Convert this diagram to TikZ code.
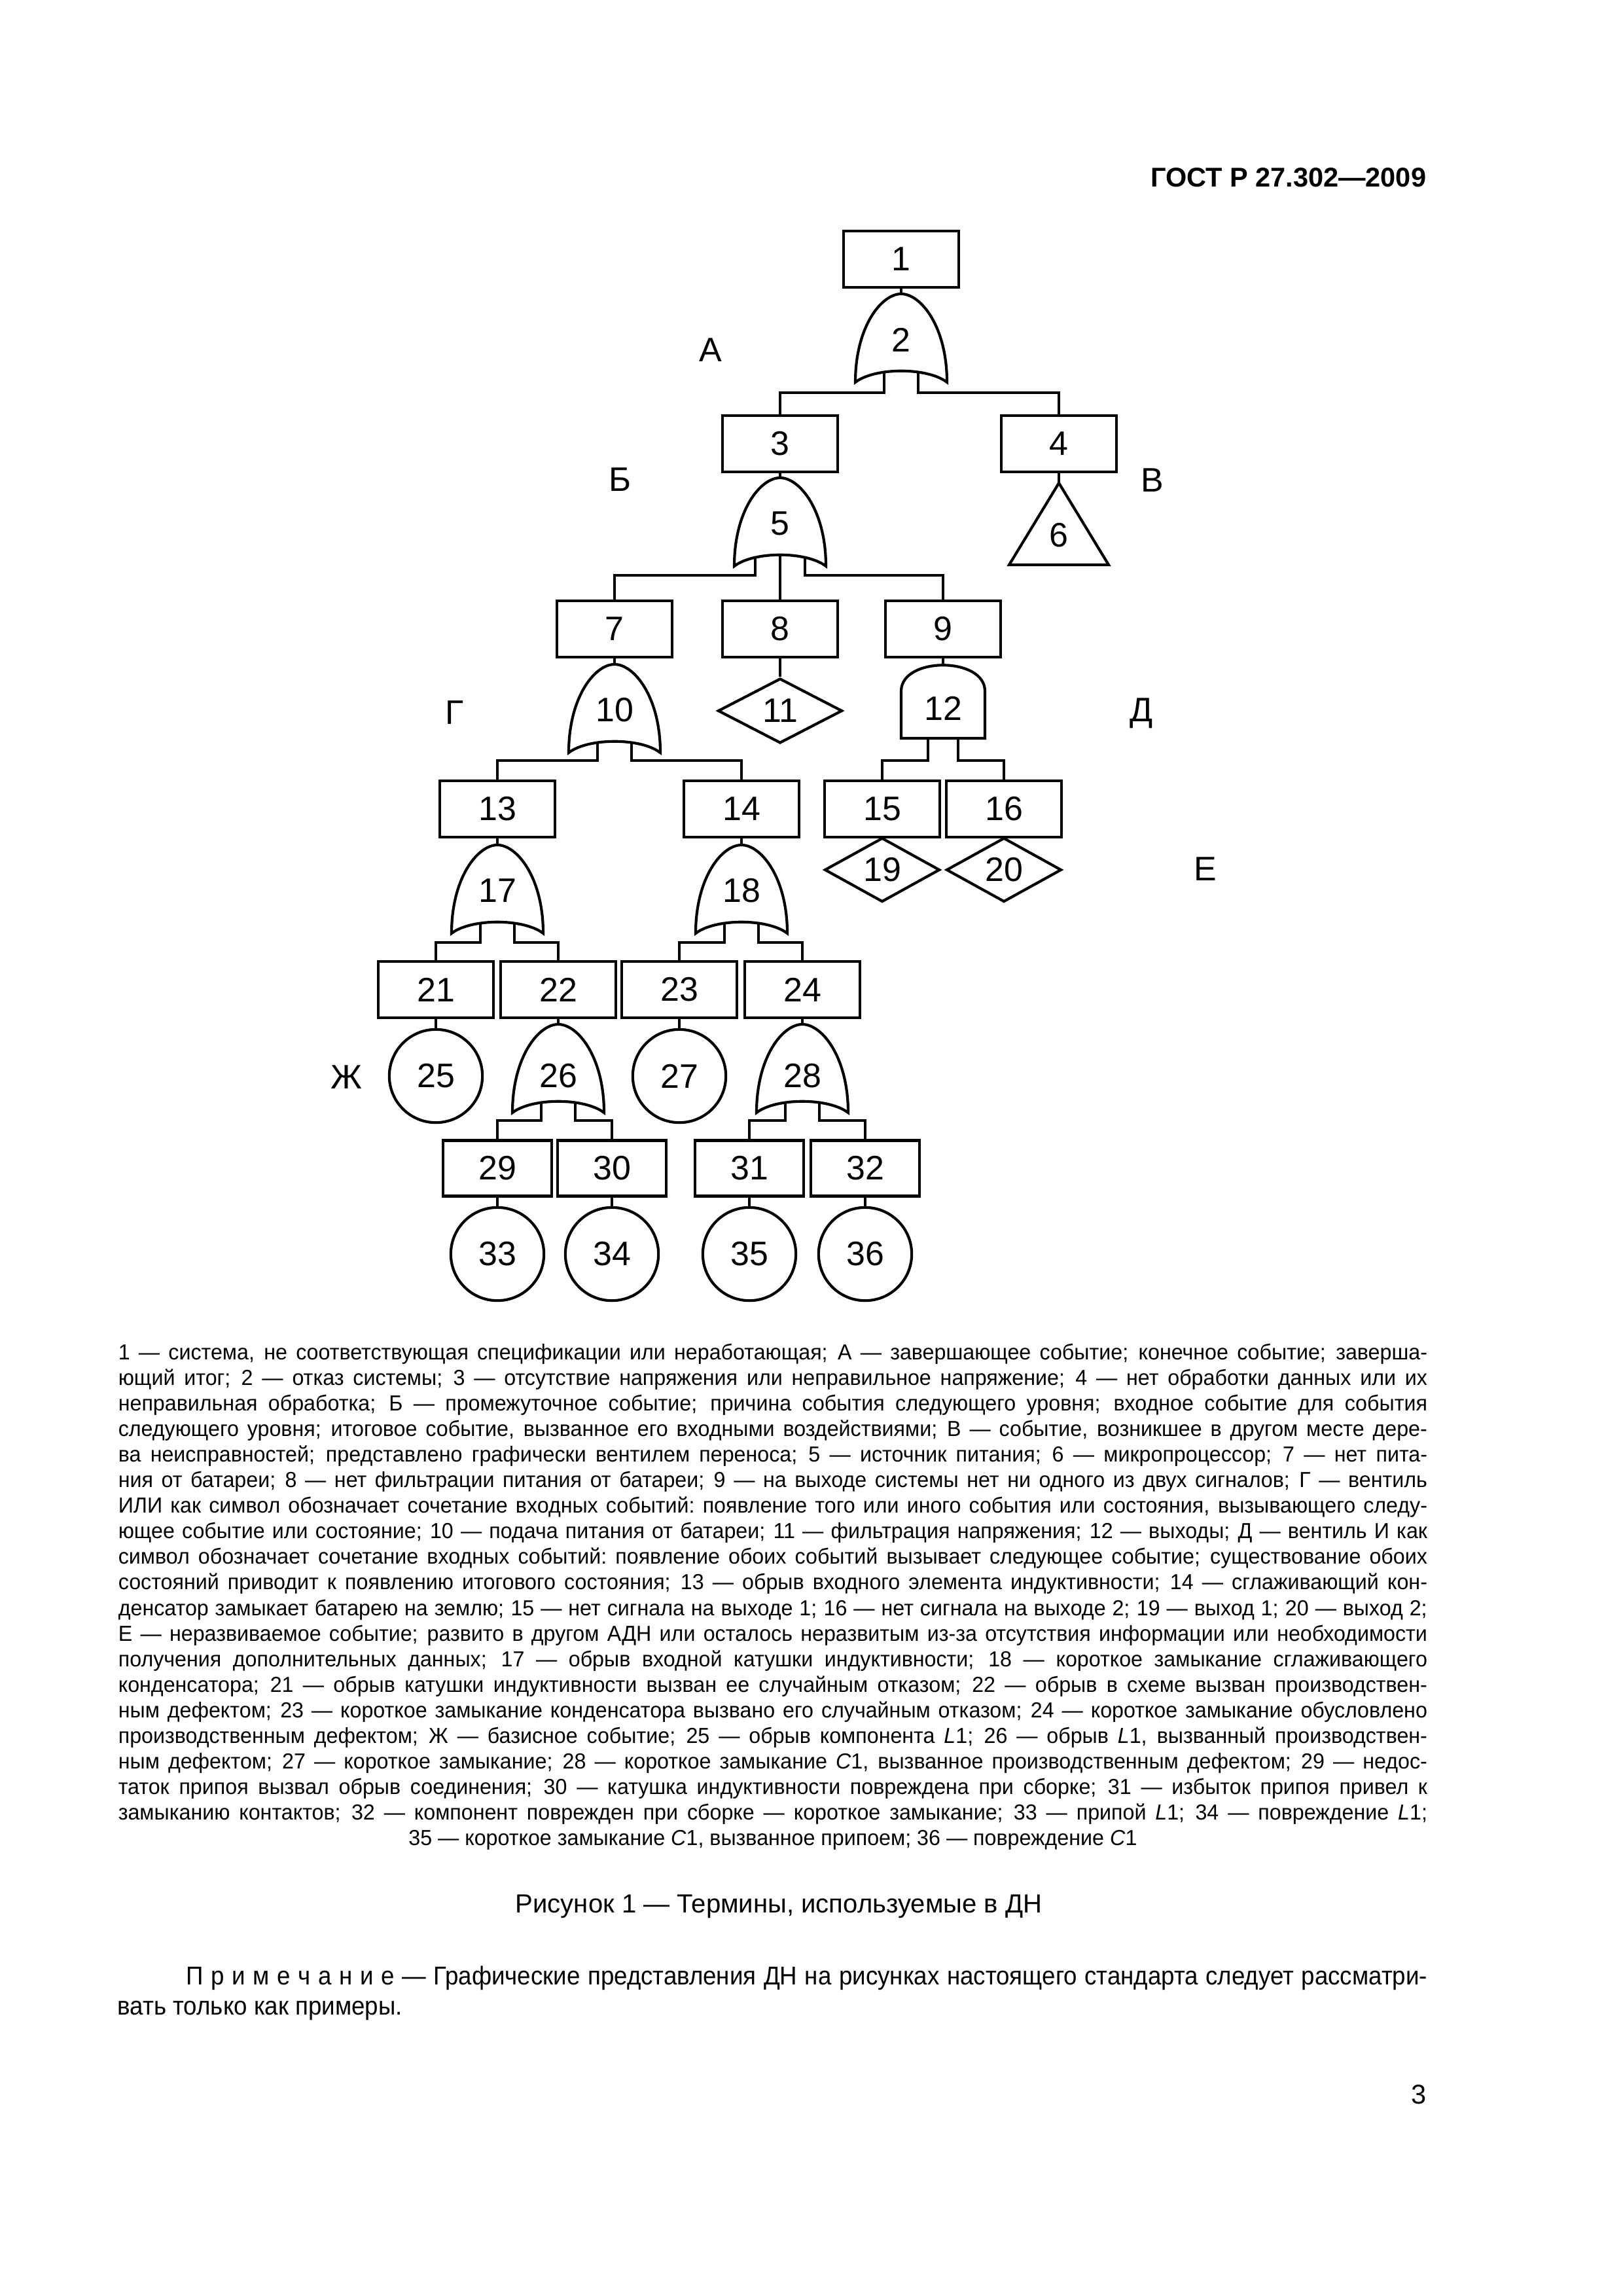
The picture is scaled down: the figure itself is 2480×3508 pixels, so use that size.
\documentclass[tikz,border=0pt]{standalone}
\usepackage{fontspec}
\setmainfont{Liberation Sans}
\newfontfamily\narrowfont{Liberation Sans}[FakeStretch=0.97]
\newfontfamily\notefont{Liberation Sans}[FakeStretch=0.93]
\usetikzlibrary{shapes.geometric}

\newcommand{\treefont}{\fontsize{12.5}{14}\selectfont}
\newcommand{\legfont}{\narrowfont\fontsize{8}{9.42}\selectfont}
\newcommand{\notetext}{\notefont\fontsize{9.5}{11}\selectfont}
\newcommand{\legline}[1]{\hbox to 169.35mm{\spaceskip=2.16pt plus 4pt minus 1.1pt\xspaceskip=\spaceskip\relax #1}}
\newcommand{\noteline}[1]{\hbox to 160.55mm{\spaceskip=2.46pt plus 4pt minus 0.8pt\xspaceskip=\spaceskip\relax #1}}

% OR gate: [label drop], name, top point, number
\newcommand{\orgate}[4][70]{%
  \begin{scope}[shift={(#3)}]
    \draw[gate] (0,0) .. controls (-30,0) and (-70,50) .. (-70,135)
      .. controls (-40,112) and (40,112) .. (70,135)
      .. controls (70,50) and (30,0) .. (0,0);
    \node[num] (#2) at (0,#1) {#4};
    \coordinate (#2-top) at (0,0);
    \coordinate (#2-l) at (-26,120);
    \coordinate (#2-r) at (26,120);
    \coordinate (#2-wl) at (-38,122);
    \coordinate (#2-wr) at (38,122);
    \coordinate (#2-c) at (0,118);
  \end{scope}}

% AND gate: name, top point, number
\newcommand{\andgate}[3]{%
  \begin{scope}[shift={(#2)}]
    \draw[gate] (-64,112) -- (-64,40) .. controls (-64,-13) and (64,-13) .. (64,40) -- (64,112) -- cycle;
    \node[num] (#1) at (0,66) {#3};
    \coordinate (#1-top) at (0,0);
    \coordinate (#1-l) at (-23,112);
    \coordinate (#1-r) at (23,112);
  \end{scope}}

\begin{document}
\begin{tikzpicture}[
    x=0.0846774mm, y=-0.0846774mm,
    box/.style={draw, line width=1.1pt, minimum width=14.9mm, minimum height=7.3mm, inner sep=0pt, font=\treefont},
    smallbox/.style={box, minimum width=14.06mm, minimum height=7.2mm},
    basic/.style={draw, line width=1pt, circle, minimum size=12.05mm, inner sep=0pt, font=\treefont},
    undev/.style={draw, line width=1pt, diamond, inner sep=0pt, minimum width=14.9mm, minimum height=8.3mm, font=\treefont},
    num/.style={inner sep=0pt, font=\treefont},
    letter/.style={inner sep=0pt, font=\treefont},
    gate/.style={line width=1pt},
    link/.style={line width=1pt}
  ]
  \path[use as bounding box, fill=white] (0,0) rectangle (2480,3508);

  \node[anchor=base east, inner sep=0pt, font=\bfseries\fontsize{10}{12}\selectfont] (head) at (2180,285) {ГОСТ Р 27.302—2009};

  % tree
  \node[box] (e1) at (1377,396) {1};
  \orgate{g2}{1377,449}{2}
  \node[box] (e3) at (1192,678) {3};
  \node[box] (e4) at (1618,678) {4};
  \orgate{g5}{1192,730}{5}
  \coordinate (t6-top) at (1618,738);
  \draw[gate] (t6-top) -- (1694,863) -- (1542,863) -- cycle;
  \node[num] (e6) at (1618,818) {6};
  \node[box] (e7) at (939,961) {7};
  \node[box] (e8) at (1192,961) {8};
  \node[box] (e9) at (1441,961) {9};
  \orgate{g10}{939,1015}{10}
  \node[undev, minimum width=16.09mm, minimum height=8.38mm] (d11) at (1192,1086) {11};
  \andgate{g12}{1441,1016}{12}
  \node[box] (e13) at (760,1236) {13};
  \node[box] (e14) at (1133,1236) {14};
  \node[box] (e15) at (1348,1236) {15};
  \node[box] (e16) at (1534,1236) {16};
  \node[undev] (d19) at (1348,1329) {19};
  \node[undev] (d20) at (1534,1329) {20};
  \orgate{g17}{760,1291}{17}
  \orgate{g18}{1133,1291}{18}
  \node[box] (e21) at (666,1512) {21};
  \node[box] (e22) at (853,1512) {22};
  \node[box] (e23) at (1038,1512) {23};
  \node[box] (e24) at (1226,1512) {24};
  \node[basic] (c25) at (666,1644) {25};
  \orgate[79]{g26}{853,1565}{26}
  \node[basic] (c27) at (1038,1644) {27};
  \orgate[79]{g28}{1226,1565}{28}
  \node[smallbox] (e29) at (760,1785) {29};
  \node[smallbox] (e30) at (935,1785) {30};
  \node[smallbox] (e31) at (1145,1785) {31};
  \node[smallbox] (e32) at (1322,1785) {32};
  \node[basic] (c33) at (760,1916) {33};
  \node[basic] (c34) at (935,1916) {34};
  \node[basic] (c35) at (1145,1916) {35};
  \node[basic] (c36) at (1322,1916) {36};

  % letters
  \node[letter] (tagA) at (1086,535) {А};
  \node[letter] (tagB) at (948,733) {Б};
  \node[letter] (tagV) at (1761,734) {В};
  \node[letter] (tagG) at (695,1089) {Г};
  \node[letter] (tagD) at (1744,1090) {Д};
  \node[letter] (tagE) at (1842,1328) {Е};
  \node[letter] (tagZh) at (529,1646) {Ж};

  % connectors
  \draw[link] (e1) -- (g2-top);
  \draw[link] (g2-l) -- ++(0,31) -| (e3);
  \draw[link] (g2-r) -- ++(0,31) -| (e4);
  \draw[link] (e3) -- (g5-top);
  \draw[link] (e4) -- (t6-top);
  \draw[link] (g5-wl) -- ++(0,27) -| (e7);
  \draw[link] (g5-c) -- (e8);
  \draw[link] (g5-wr) -- ++(0,27) -| (e9);
  \draw[link] (e7) -- (g10-top);
  \draw[link] (e8) -- (d11);
  \draw[link] (e9) -- (g12-top);
  \draw[link] (g10-l) -- ++(0,27) -| (e13);
  \draw[link] (g10-r) -- ++(0,27) -| (e14);
  \draw[link] (g12-l) -- ++(0,34) -| (e15);
  \draw[link] (g12-r) -- ++(0,34) -| (e16);
  \draw[link] (e13) -- (g17-top);
  \draw[link] (e14) -- (g18-top);
  \draw[link] (g17-l) -- ++(0,29) -| (e21);
  \draw[link] (g17-r) -- ++(0,29) -| (e22);
  \draw[link] (g18-l) -- ++(0,29) -| (e23);
  \draw[link] (g18-r) -- ++(0,29) -| (e24);
  \draw[link] (e21) -- (c25);
  \draw[link] (e22) -- (g26-top);
  \draw[link] (e23) -- (c27);
  \draw[link] (e24) -- (g28-top);
  \draw[link] (g26-l) -- ++(0,27) -| (e29);
  \draw[link] (g26-r) -- ++(0,27) -| (e30);
  \draw[link] (g28-l) -- ++(0,27) -| (e31);
  \draw[link] (g28-r) -- ++(0,27) -| (e32);
  \draw[link] (e29) -- (c33);
  \draw[link] (e30) -- (c34);
  \draw[link] (e31) -- (c35);
  \draw[link] (e32) -- (c36);

  % legend
  \node[anchor=base west, inner sep=0pt, text width=169.35mm, font=\legfont] (legend) at (180,2077) {%
\legline{1 — система, не соответствующая спецификации или неработающая; А — завершающее событие; конечное событие; заверша-}
\legline{ющий итог; 2 — отказ системы; 3 — отсутствие напряжения или неправильное напряжение; 4 — нет обработки данных или их}
\legline{неправильная обработка; Б — промежуточное событие; причина события следующего уровня; входное событие для события}
\legline{следующего уровня; итоговое событие, вызванное его входными воздействиями; В — событие, возникшее в другом месте дере-}
\legline{ва неисправностей; представлено графически вентилем переноса; 5 — источник питания; 6 — микропроцессор; 7 — нет пита-}
\legline{ния от батареи; 8 — нет фильтрации питания от батареи; 9 — на выходе системы нет ни одного из двух сигналов; Г — вентиль}
\legline{ИЛИ как символ обозначает сочетание входных событий: появление того или иного события или состояния, вызывающего следу-}
\legline{ющее событие или состояние; 10 — подача питания от батареи; 11 — фильтрация напряжения; 12 — выходы; Д — вентиль И как}
\legline{символ обозначает сочетание входных событий: появление обоих событий вызывает следующее событие; существование обоих}
\legline{состояний приводит к появлению итогового состояния; 13 — обрыв входного элемента индуктивности; 14 — сглаживающий кон-}
\legline{денсатор замыкает батарею на землю; 15 — нет сигнала на выходе 1; 16 — нет сигнала на выходе 2; 19 — выход 1; 20 — выход 2;}
\legline{Е — неразвиваемое событие; развито в другом АДН или осталось неразвитым из-за отсутствия информации или необходимости}
\legline{получения дополнительных данных; 17 — обрыв входной катушки индуктивности; 18 — короткое замыкание сглаживающего}
\legline{конденсатора; 21 — обрыв катушки индуктивности вызван ее случайным отказом; 22 — обрыв в схеме вызван производствен-}
\legline{ным дефектом; 23 — короткое замыкание конденсатора вызвано его случайным отказом; 24 — короткое замыкание обусловлено}
\legline{производственным дефектом; Ж — базисное событие; 25 — обрыв компонента \textit{L}1; 26 — обрыв \textit{L}1, вызванный производствен-}
\legline{ным дефектом; 27 — короткое замыкание; 28 — короткое замыкание \textit{C}1, вызванное производственным дефектом; 29 — недос-}
\legline{таток припоя вызвал обрыв соединения; 30 — катушка индуктивности повреждена при сборке; 31 — избыток припоя привел к}
\legline{замыканию контактов; 32 — компонент поврежден при сборке — короткое замыкание; 33 — припой \textit{L}1; 34 — повреждение \textit{L}1;}
\legline{\hfil 35 — короткое замыкание \textit{C}1, вызванное припоем; 36 — повреждение \textit{C}1\hfil}};

  \node[anchor=base, inner sep=0pt, font=\fontsize{9.65}{12}\selectfont] (caption) at (1190,2922) {Рисунок 1 — Термины, используемые в ДН};
  \node[anchor=base west, inner sep=0pt, font=\notetext] (note) at (284,3032) {\noteline{П р и м е ч а н и е — Графические представления ДН на рисунках настоящего стандарта следует рассматри-}};
  \node[anchor=base west, inner sep=0pt, font=\notetext] (note2) at (179,3078) {вать только как примеры.};
  \node[anchor=base east, inner sep=0pt, font=\fontsize{10}{12}\selectfont] (pageno) at (2180,3214) {3};
\end{tikzpicture}
\end{document}
